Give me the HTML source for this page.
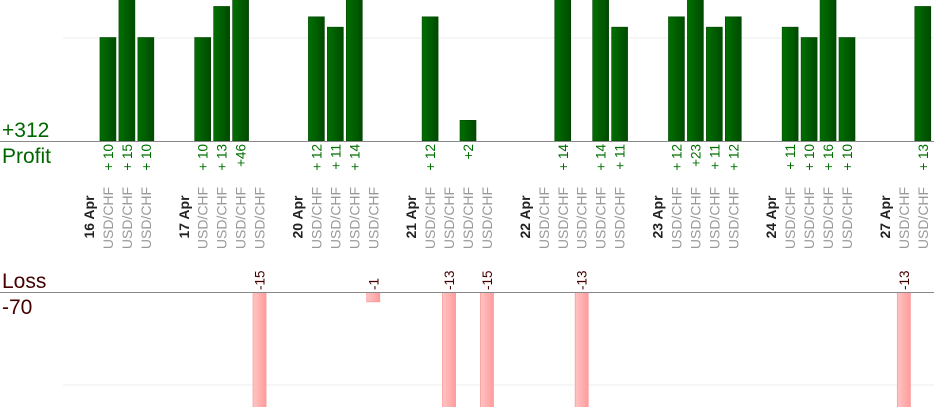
<!DOCTYPE html>
<html><head><meta charset="utf-8"><style>
html,body{margin:0;padding:0;background:#fff;}
svg{display:block;font-family:"Liberation Sans",sans-serif;}
</style></head><body>
<svg id="chart" width="934" height="420" viewBox="0 0 934 420" xmlns="http://www.w3.org/2000/svg">
<defs>
<linearGradient id="gG" x1="0" x2="1" y1="0" y2="0"><stop offset="0" stop-color="#007000"/><stop offset="1" stop-color="#004a00"/></linearGradient>
<linearGradient id="gR" x1="0" x2="1" y1="0" y2="0"><stop offset="0" stop-color="#ffc4c4"/><stop offset="1" stop-color="#ff9c9c"/></linearGradient>
<clipPath id="clipP"><rect x="0" y="0" width="934" height="141"/></clipPath>
<clipPath id="clipL"><rect x="0" y="292" width="934" height="115"/></clipPath>
</defs>
<line x1="63" x2="934" y1="38" y2="38" stroke="#eee" stroke-width="1"/>
<line x1="63" x2="934" y1="385" y2="385" stroke="#eee" stroke-width="1"/>
<g id="marks"></g>
<line x1="0" x2="934" y1="141.5" y2="141.5" stroke="#888" stroke-width="1"/>
<line x1="0" x2="934" y1="292.5" y2="292.5" stroke="#888" stroke-width="1"/>
<text x="2" y="137" font-size="21" fill="#006600">+312</text>
<text x="2" y="163" font-size="21" fill="#006600">Profit</text>
<text x="2" y="288" font-size="21" fill="#400">Loss</text>
<text x="2" y="314" font-size="21" fill="#400">-70</text>
</svg>
<script>
const days = ["16 Apr","17 Apr","20 Apr","21 Apr","22 Apr","23 Apr","24 Apr","27 Apr"];
const trades = [
  [10,15,10],
  [10,13,46,-15],
  [12,11,14,-1],
  [12,-13,2,-15],
  [0,14,-13,14,11],
  [12,23,11,12],
  [11,10,16,10],
  [-13,13]
];
const symbol = "USD/CHF";

const NS = "http://www.w3.org/2000/svg";
const g = document.getElementById("marks");
const X0 = 89, PITCH = 18.95;
const yP = v => 141 - v * 10.35;
const yL = v => 292 + v * 9.3;
function mk(tag, attrs, parent){const e=document.createElementNS(NS,tag);for(const k in attrs)e.setAttribute(k,attrs[k]);(parent||g).appendChild(e);return e;}
let slot = 0;
days.forEach((d, di) => {
  const dx = X0 + slot * PITCH;
  const dl = mk("text",{x:dx+5,y:217,"font-size":14,"font-weight":"bold",fill:"#222","text-anchor":"middle",transform:`rotate(-90 ${dx+5} 217)`});
  
  
  dl.textContent = d;
  slot++;
  trades[di].forEach(v => {
    const cx = X0 + slot * PITCH;
    const sl = mk("text",{x:cx+5,y:218,"font-size":14,fill:"#999","text-anchor":"middle",transform:`rotate(-90 ${cx+5} 218)`});
    
    
    sl.textContent = symbol;
    if (v > 0) {
      const r = mk("rect",{x:cx-8,y:yP(v),width:16,height:141-yP(v),fill:"url(#gG)",stroke:"#004400","stroke-width":0.6,"clip-path":"url(#clipP)"});
      
      
      const t = mk("text",{x:cx+5,y:144,"font-size":13.5,fill:"#007000","text-anchor":"end",transform:`rotate(-90 ${cx+5} 144)`});
      
      
      t.textContent = (v >= 10 && v < 20) ? "+ " + v : "+" + v;
    } else if (v < 0) {
      const h = yL(-v) - 292;
      const r = mk("rect",{x:cx-6.5,y:292.5,width:13,height:h,fill:"url(#gR)",stroke:"#f99","stroke-width":0.8,"clip-path":"url(#clipL)"});
      
      
      const t = mk("text",{x:cx+5,y:290,"font-size":13.5,fill:"#400","text-anchor":"start",transform:`rotate(-90 ${cx+5} 290)`});
      
      
      t.textContent = String(v);
    }
    slot++;
  });
  slot++;
});
</script>
</body></html>
